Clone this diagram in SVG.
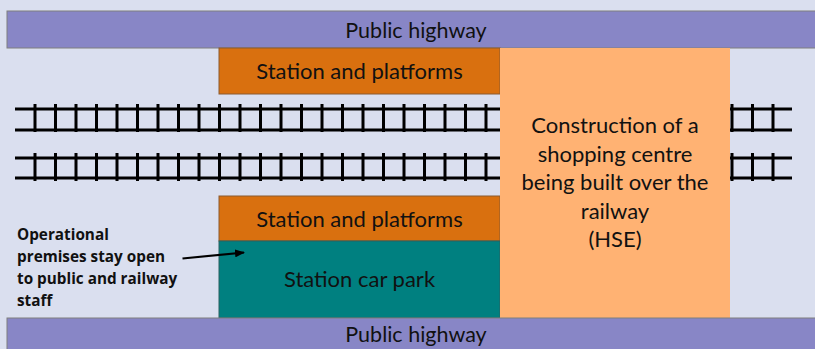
<svg xmlns="http://www.w3.org/2000/svg" width="815" height="349" viewBox="0 0 815 349">
<defs>
<style>
.lbl{font-family:Lato,"Open Sans","Liberation Sans",sans-serif;font-size:22px;fill:#111;text-anchor:middle}
.hwl{font-size:21.5px}
.note{font-family:"Open Sans","Liberation Sans",sans-serif;font-size:15.3px;font-weight:bold;fill:#111}
.hw{fill:#8886c6;stroke:#7f7f7f;stroke-width:1}
.stn{fill:#d9700f;stroke:#8a5a30;stroke-width:1}
.rail{stroke:#000;stroke-width:3;fill:none}
.tie{stroke:#000;stroke-width:3}
</style>
<marker id="ah" markerWidth="10" markerHeight="8" refX="9" refY="4" orient="auto" markerUnits="userSpaceOnUse">
<path d="M0,0 L10,4 L0,8 Z" fill="#000"/>
</marker>
</defs>
<rect x="0" y="0" width="815" height="349" fill="#dadfef"/>
<g id="highway-top">
<rect class="hw" x="7" y="11" width="812" height="37"/>
<text class="lbl hwl" x="416" y="37.5">Public highway</text>
</g>
<g id="tracks">
<line class="rail" x1="15" y1="109" x2="792" y2="109"/>
<line class="rail" x1="15" y1="130" x2="792" y2="130"/>
<line class="rail" x1="15" y1="158" x2="792" y2="158"/>
<line class="rail" x1="15" y1="178" x2="792" y2="178"/>
<path class="tie" d="M35,104V132M55.5,104V132M76,104V132M96.5,104V132M117,104V132M137.5,104V132M158,104V132M178.5,104V132M199,104V132M219.5,104V132M240,104V132M260.5,104V132M281,104V132M301.5,104V132M322,104V132M342.5,104V132M363,104V132M383.5,104V132M404,104V132M424.5,104V132M445,104V132M465.5,104V132M486,104V132M732,104V132M752.5,104V132M773,104V132"/>
<path class="tie" d="M35,153V181M55.5,153V181M76,153V181M96.5,153V181M117,153V181M137.5,153V181M158,153V181M178.5,153V181M199,153V181M219.5,153V181M240,153V181M260.5,153V181M281,153V181M301.5,153V181M322,153V181M342.5,153V181M363,153V181M383.5,153V181M404,153V181M424.5,153V181M445,153V181M465.5,153V181M486,153V181M732,153V181M752.5,153V181M773,153V181"/>
</g>
<g id="station-top">
<rect class="stn" x="219" y="48" width="281" height="46"/>
<text class="lbl" x="359.5" y="79">Station and platforms</text>
</g>
<g id="station-bottom">
<rect class="stn" x="219" y="196" width="281" height="45"/>
<text class="lbl" x="359.5" y="226.5">Station and platforms</text>
</g>
<g id="car-park">
<rect x="219" y="241" width="281" height="77" fill="#008080" stroke="#2a6060" stroke-width="1"/>
<text class="lbl" x="359.5" y="287">Station car park</text>
</g>
<g id="construction">
<rect x="500" y="48" width="230" height="270" fill="#ffb273"/>
<text class="lbl" x="615" y="133">Construction of a</text>
<text class="lbl" x="615" y="161.5">shopping centre</text>
<text class="lbl" x="615" y="190">being built over the</text>
<text class="lbl" x="615" y="218.5">railway</text>
<text class="lbl" x="615" y="247">(HSE)</text>
</g>
<g id="highway-bottom">
<rect class="hw" x="7" y="318" width="812" height="40"/>
<text class="lbl hwl" x="416" y="342">Public highway</text>
</g>
<g id="note">
<text class="note" x="17" y="240">Operational</text>
<text class="note" x="17" y="262">premises stay open</text>
<text class="note" x="17" y="284">to public and railway</text>
<text class="note" x="17" y="306">staff</text>
</g>
<g id="connectors">
<line x1="182.5" y1="258.5" x2="244" y2="252.5" stroke="#000" stroke-width="2.2" marker-end="url(#ah)"/>
</g>
</svg>
